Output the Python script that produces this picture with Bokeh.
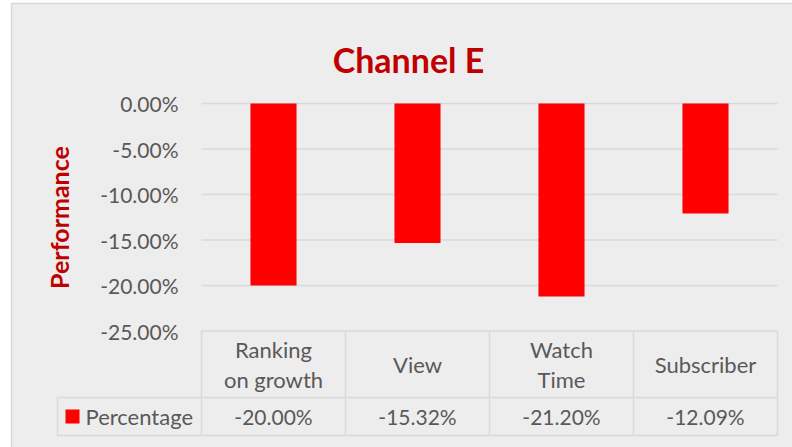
from bokeh.plotting import figure
from bokeh.models import Range1d, FixedTicker, NumeralTickFormatter
from bokeh.core.properties import value
from bokeh.embed import file_html
from bokeh.resources import INLINE

# ---- data ----
title_text = "Channel E"
y_title = "Performance"
series_name = "Percentage"
categories = ["Ranking\non growth", "View", "Watch\nTime", "Subscriber"]
percentages = [-0.2000, -0.1532, -0.2120, -0.1209]
y_ticks = [0.0, -0.05, -0.10, -0.15, -0.20, -0.25]

value_labels = [f"{v * 100:.2f}%" for v in percentages]

# ---- layout constants (pixels) ----
W, H = 792, 447
X0, Y0 = 201, 103      # screen position of data (0, 0)
PX_X = 144.0           # pixels per category column
PX_Y = 910.0           # pixels per 1.0 of y
FONT = "Lato"
GRAY = "#595959"
LINE = "#D9D9D9"
BG = "#EDEDED"
RED = "#FF0000"
DARKRED = "#C00000"


def dx(sx):
    return (sx - X0) / PX_X


def dy(sy):
    return -(sy - Y0) / PX_Y


p = figure(width=W, height=H,
           x_range=Range1d(dx(0), dx(W)), y_range=Range1d(dy(H), dy(0)),
           output_backend="svg", toolbar_location=None, x_axis_location=None,
           min_border_left=0, min_border_right=0, min_border_top=0, min_border_bottom=0,
           background_fill_color="white", border_fill_color="white", outline_line_color=None)
p.xgrid.visible = False
p.ygrid.visible = False

# chart area background + border
p.quad(left=[dx(11)], right=[dx(W) + 1], top=[dy(3)], bottom=[dy(H) - 1],
       fill_color=BG, line_color=LINE, line_width=1.5)

# title
p.text(x=[dx(408)], y=[dy(59)], text=[title_text], text_align="center", text_baseline="alphabetic",
       text_font=value(FONT), text_font_size="34px", text_font_style="bold", text_color=DARKRED)

ax = p.yaxis[0]
ax.fixed_location = 0
ax.bounds = (min(y_ticks), max(y_ticks))
ax.ticker = FixedTicker(ticks=y_ticks)
ax.formatter = NumeralTickFormatter(format="0.00%")
ax.axis_line_color = None
ax.major_tick_line_color = None
ax.minor_tick_line_color = None
ax.major_tick_out = 0
ax.major_tick_in = 0
ax.major_label_standoff = 23
ax.major_label_text_font = FONT
ax.major_label_text_font_size = "21px"
ax.major_label_text_color = GRAY
ax.axis_label = y_title
ax.axis_label_text_font = FONT
ax.axis_label_text_font_size = "25px"
ax.axis_label_text_font_style = "bold"
ax.axis_label_text_color = DARKRED
ax.axis_label_standoff = 23

n = len(categories)
centers = [i + 0.5 for i in range(n)]

# gridlines (plot area only)
p.segment(x0=[0] * len(y_ticks), x1=[n] * len(y_ticks), y0=y_ticks, y1=y_ticks,
          line_color=LINE, line_width=1.5)

# bars
p.vbar(x=centers, top=0, bottom=percentages, width=0.32, fill_color=RED, line_color=None)

# data table
t_top = min(y_ticks)
t_mid = dy(397)
t_bot = dy(435)
hx0 = [i for i in range(n + 1)]
p.segment(x0=hx0, x1=hx0, y0=[t_top] * (n + 1), y1=[t_bot] * (n + 1), line_color=LINE, line_width=1.5)
p.segment(x0=[-1], x1=[-1], y0=[t_mid], y1=[t_bot], line_color=LINE, line_width=1.5)
p.segment(x0=[-1, -1], x1=[n, n], y0=[t_mid, t_bot], y1=[t_mid, t_bot], line_color=LINE, line_width=1.5)

head_y = (t_top + t_mid) / 2
row_y = (t_mid + t_bot) / 2
p.text(x=centers, y=[head_y] * n, text=categories, text_align="center", text_baseline="middle",
       text_font=value(FONT), text_font_size="22px", text_color=GRAY, text_line_height=1.12)
p.text(x=centers, y=[row_y] * n, text=value_labels, text_align="center", text_baseline="middle",
       text_font=value(FONT), text_font_size="21px", text_color=GRAY)

p.scatter(x=[dx(72)], y=[row_y], marker="square", size=14, fill_color=RED, line_color=None)
p.text(x=[dx(85)], y=[row_y], text=[series_name], text_align="left", text_baseline="middle",
       text_font=value(FONT), text_font_size="22px", text_color=GRAY)

open("out.html", "w").write(file_html(p, INLINE))
